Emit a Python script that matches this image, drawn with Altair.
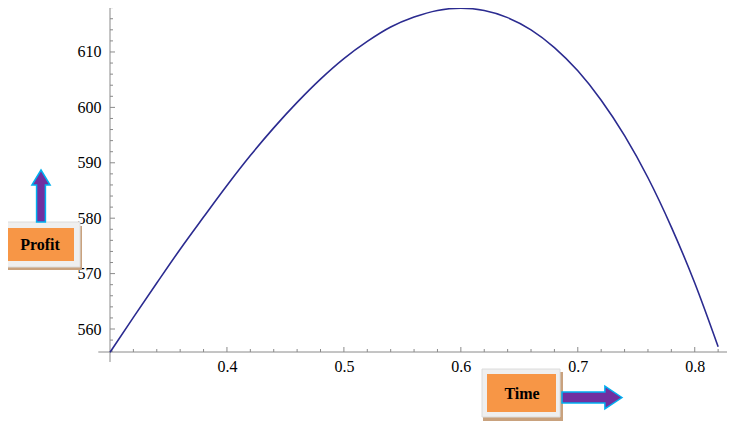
import altair as alt
import pandas as pd

# Curve
time_vals = [0.30, 0.32, 0.34, 0.36, 0.38, 0.40, 0.42, 0.44, 0.46, 0.48, 0.50,
             0.52, 0.54, 0.56, 0.58, 0.60, 0.62, 0.64, 0.66, 0.68, 0.70, 0.72,
             0.74, 0.76, 0.78, 0.80, 0.82]
profit_vals = [555.8, 562.1, 568.3, 574.4, 580.2, 585.9, 591.3, 596.3, 600.9, 605.1, 608.8,
               611.9, 614.5, 616.3, 617.5, 617.9, 617.5, 616.2, 614.0, 610.8, 606.6, 601.3,
               594.9, 587.3, 578.4, 568.3, 556.8]

x_major = [0.4, 0.5, 0.6, 0.7, 0.8]
x_minor = [0.32, 0.34, 0.36, 0.38, 0.42, 0.44, 0.46, 0.48, 0.52, 0.54, 0.56, 0.58,
           0.62, 0.64, 0.66, 0.68, 0.72, 0.74, 0.76, 0.78, 0.82]
y_major = [560, 570, 580, 590, 600, 610]
y_minor = [556, 558, 562, 564, 566, 568, 572, 574, 576, 578, 582, 584, 586, 588,
           592, 594, 596, 598, 602, 604, 606, 608, 612, 614, 616, 618]

X_DOMAIN = [0.3, 0.831]
Y_DOMAIN = [555.85, 618.84]

W, H = 621, 349
FONT = "Liberation Serif"

xs = alt.Scale(domain=X_DOMAIN, nice=False, zero=False)
ys = alt.Scale(domain=Y_DOMAIN, nice=False, zero=False)

curve_df = pd.DataFrame({"t": time_vals, "p": profit_vals})

curve = alt.Chart(curve_df).mark_line(
    color="#2b2b90", strokeWidth=1.6, interpolate="monotone"
).encode(
    x=alt.X("t:Q", scale=xs, axis=alt.Axis(values=x_major, format=".1f", domain=False,
            ticks=False, grid=False, title=None, labelFont=FONT, labelFontSize=16,
            labelColor="#000", labelPadding=6)),
    y=alt.Y("p:Q", scale=ys, axis=alt.Axis(values=y_major, domain=False, ticks=False,
            grid=False, title=None, labelFont=FONT, labelFontSize=16,
            labelColor="#000", labelPadding=9)),
)

AX = "#8a8a8a"
x_axis_line = alt.Chart(pd.DataFrame({"a": [0.29], "b": [0.831], "y": [555.85]})).mark_rule(
    color=AX, strokeWidth=1).encode(x=alt.X("a:Q", scale=xs), x2="b:Q", y=alt.Y("y:Q", scale=ys))
y_axis_line = alt.Chart(pd.DataFrame({"x": [0.3], "a": [554.05], "b": [618.84]})).mark_rule(
    color=AX, strokeWidth=1).encode(x=alt.X("x:Q", scale=xs), y=alt.Y("a:Q", scale=ys), y2="b:Q")

def xticks(vals, ln):
    return alt.Chart(pd.DataFrame({"v": vals})).mark_rule(color=AX, strokeWidth=1).encode(
        x=alt.X("v:Q", scale=xs), y=alt.value(H), y2=alt.value(H - ln))

def yticks(vals, ln):
    return alt.Chart(pd.DataFrame({"v": vals})).mark_rule(color=AX, strokeWidth=1).encode(
        y=alt.Y("v:Q", scale=ys), x=alt.value(0), x2=alt.value(ln))

one = pd.DataFrame({"a": [0]})

def box(x1, x2, y1, y2, fill, stroke=None):
    kw = dict(fill=fill)
    if stroke:
        kw.update(stroke=stroke, strokeWidth=1)
    return alt.Chart(one).mark_rect(**kw).encode(
        x=alt.value(x1), x2=alt.value(x2), y=alt.value(y1), y2=alt.value(y2))

def label(txt, x, y):
    return alt.Chart(pd.DataFrame({"t": [txt]})).mark_text(
        font=FONT, fontSize=16, fontWeight="bold", color="#000").encode(
        text="t:N", x=alt.value(x), y=alt.value(y))

UP = "M0,-1 L0.35,-0.42 L0.17,-0.42 L0.17,1 L-0.17,1 L-0.17,-0.42 L-0.35,-0.42 Z"
RIGHT = "M1,0 L0.43,-0.38 L0.43,-0.18 L-1,-0.18 L-1,0.18 L0.43,0.18 L0.43,0.38 Z"

def arrow(path, size, x, y):
    return alt.Chart(one).mark_point(shape=path, size=size, filled=True, fill="#7030a0",
                                     stroke="#00b0f0", strokeWidth=1.5, opacity=1).encode(
        x=alt.value(x), y=alt.value(y))

TAN = "#c9a27e"
ORANGE = "#f79646"
FRAME = "#efefef"

decor = [
    # Profit label
    box(-108, -28, 264, 267, TAN), box(-30, -28, 223, 267, TAN),
    box(-109, -30, 219, 264, FRAME, "#dcdcdc"), box(-104, -36, 225, 258, ORANGE),
    label("Profit", -70, 242), arrow(UP, 2704, -69, 193),
    # Time label
    box(373, 453, 414, 418, TAN), box(449, 453, 369, 418, TAN),
    box(372, 450, 366, 414, FRAME, "#dcdcdc"), box(377, 446, 371, 409, ORANGE),
    label("Time", 412, 391), arrow(RIGHT, 3600, 482, 394.5),
]

chart = alt.layer(
    x_axis_line, y_axis_line,
    xticks(x_major, 5), xticks(x_minor, 3), yticks(y_major, 5), yticks(y_minor, 3),
    curve, *decor
).properties(
    width=W, height=H,
    autosize=alt.AutoSizeParams(type="none"),
    padding={"left": 102, "top": -5, "right": -4, "bottom": 69},
).configure_view(stroke=None)

chart.save("out.html", embed_options={"renderer": "svg", "actions": False})
